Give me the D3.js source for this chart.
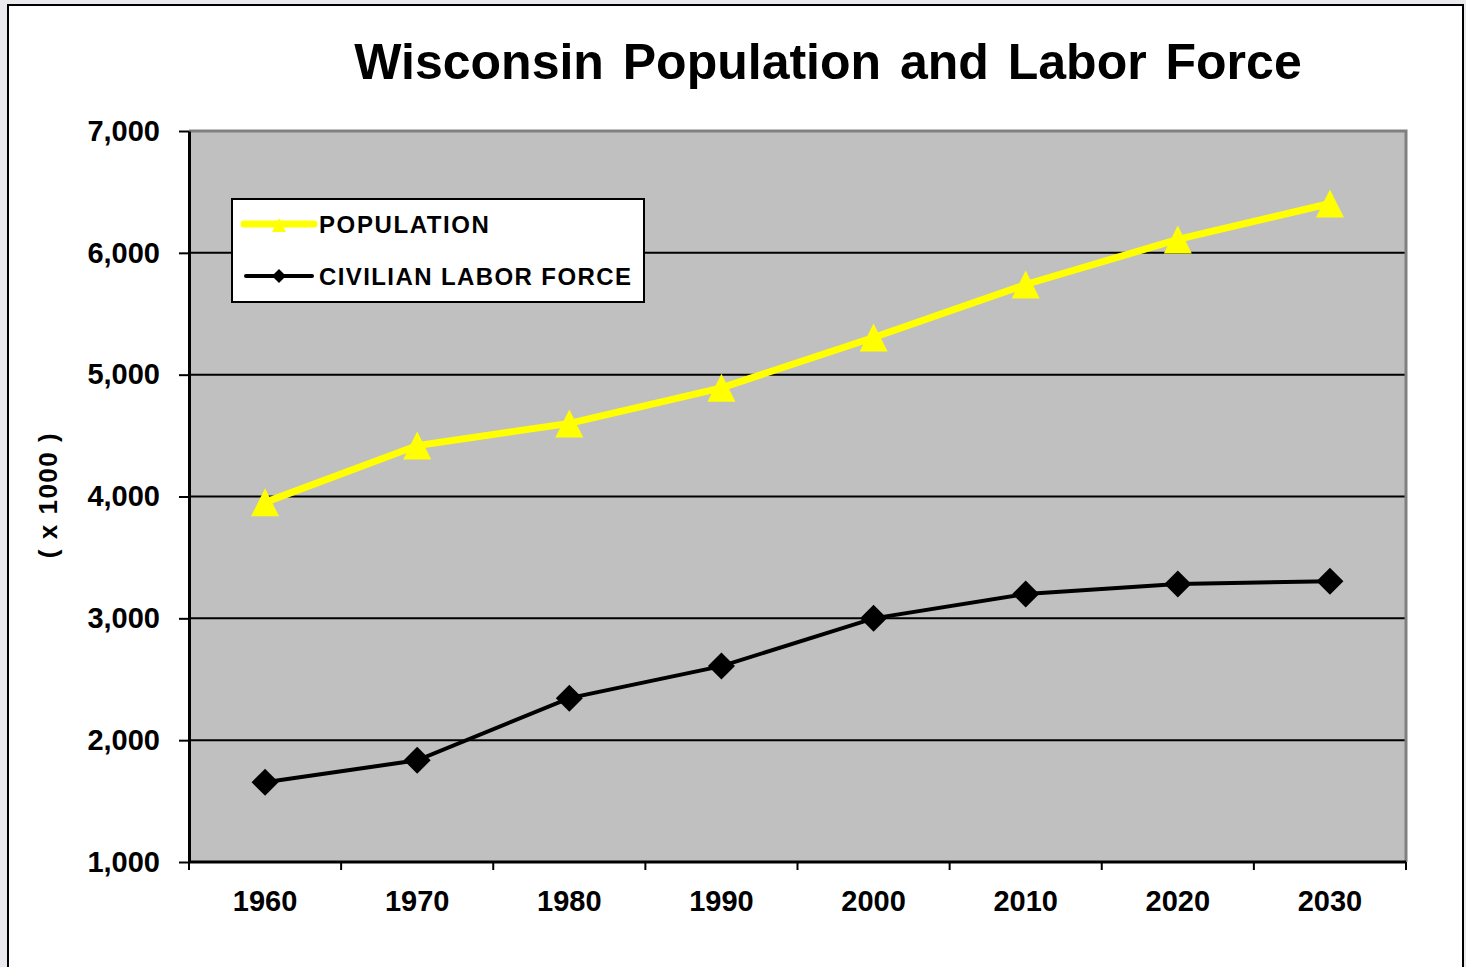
<!DOCTYPE html>
<html>
<head>
<meta charset="utf-8">
<script src="https://cdn.jsdelivr.net/npm/d3@7"></script>
<style>
  body { margin: 0; background: #e9e9ee; }
  svg { display: block; font-family: Arial, "Liberation Sans", sans-serif; }
</style>
</head>
<body>
<script>
var years = ["1960", "1970", "1980", "1990", "2000", "2010", "2020", "2030"];
var population = [3952, 4418, 4600, 4892, 5305, 5740, 6110, 6405];
var laborForce = [1655, 1835, 2345, 2608, 3000, 3200, 3282, 3305];
var yTicks = [1000, 2000, 3000, 4000, 5000, 6000, 7000];

var svg = d3.select("body").append("svg").attr("width", 1466).attr("height", 967);

// outer chart frame
svg.append("rect").attr("x", 8).attr("y", 5).attr("width", 1455).attr("height", 980)
    .attr("fill", "#fff").attr("stroke", "#000").attr("stroke-width", 2);

var margin = { top: 131, left: 189 };
var width = 1406 - 189;
var height = 862 - 131;

var x = d3.scaleBand().domain(years).range([0, width]);
var y = d3.scaleLinear().domain([1000, 7000]).range([height, 0]);

var g = svg.append("g").attr("transform", "translate(" + margin.left + "," + margin.top + ")");

g.append("rect").attr("width", width).attr("height", height).attr("fill", "#c0c0c0");

// gridlines
g.selectAll(".grid").data(yTicks.slice(1, -1)).enter().append("line")
    .attr("x1", 0).attr("x2", width)
    .attr("y1", function (d) { return y(d); }).attr("y2", function (d) { return y(d); })
    .attr("stroke", "#000").attr("stroke-width", 2);

// grey top and right plot border
g.append("path").attr("d", "M0,0H" + width + "V" + height)
    .attr("fill", "none").attr("stroke", "#808080").attr("stroke-width", 3);

// y axis
var yAxis = g.append("g").call(d3.axisLeft(y).tickValues(yTicks).tickFormat(d3.format(",")).tickSize(10).tickSizeOuter(0));
yAxis.select(".domain").attr("stroke-width", 3);
yAxis.selectAll(".tick line").attr("stroke-width", 2);
yAxis.selectAll("text").attr("font-size", 29).attr("font-weight", "bold").attr("x", -29).attr("fill", "#000");

// x axis: ticks on the band edges
var xAxis = g.append("g").attr("transform", "translate(0," + height + ")");
xAxis.append("line").attr("x1", 0).attr("x2", width).attr("stroke", "#000").attr("stroke-width", 3);
xAxis.selectAll(".xt").data(d3.range(years.length + 1)).enter().append("line")
    .attr("x1", function (i) { return i * x.bandwidth(); })
    .attr("x2", function (i) { return i * x.bandwidth(); })
    .attr("y1", 0).attr("y2", 8).attr("stroke", "#000").attr("stroke-width", 2);
xAxis.selectAll(".xl").data(years).enter().append("text")
    .attr("x", function (d) { return x(d) + x.bandwidth() / 2; })
    .attr("y", 49).attr("text-anchor", "middle")
    .attr("font-size", 29).attr("font-weight", "bold").text(function (d) { return d; });

var cx = function (d, i) { return x(years[i]) + x.bandwidth() / 2; };
var line = d3.line().x(cx).y(function (d) { return y(d); });

g.append("path").datum(population).attr("d", line)
    .attr("fill", "none").attr("stroke", "#ffff00").attr("stroke-width", 7);
g.append("path").datum(laborForce).attr("d", line)
    .attr("fill", "none").attr("stroke", "#000").attr("stroke-width", 4);

// Excel-style markers: triangle as tall as it is wide, square diamond
var tallTriangle = {
    draw: function (ctx, size) {
        var r = Math.sqrt(size) / 2;
        ctx.moveTo(0, -r); ctx.lineTo(r, r); ctx.lineTo(-r, r); ctx.closePath();
    }
};
var squareDiamond = {
    draw: function (ctx, size) {
        var r = Math.sqrt(size) / 2;
        ctx.moveTo(0, -r); ctx.lineTo(r, 0); ctx.lineTo(0, r); ctx.lineTo(-r, 0); ctx.closePath();
    }
};
var tri = d3.symbol().type(tallTriangle).size(28 * 28);
var dia = d3.symbol().type(squareDiamond).size(27 * 27);

g.selectAll(".pop").data(population).enter().append("path")
    .attr("d", tri)
    .attr("transform", function (d, i) { return "translate(" + cx(d, i) + "," + y(d) + ")"; })
    .attr("fill", "#ffff00");
g.selectAll(".lab").data(laborForce).enter().append("path")
    .attr("d", dia)
    .attr("transform", function (d, i) { return "translate(" + cx(d, i) + "," + y(d) + ")"; })
    .attr("fill", "#000");

// legend
var lg = svg.append("g").attr("transform", "translate(232,199)");
lg.append("rect").attr("width", 412).attr("height", 103).attr("fill", "#fff").attr("stroke", "#000").attr("stroke-width", 2);
lg.append("line").attr("x1", 12).attr("x2", 82).attr("y1", 25).attr("y2", 25).attr("stroke", "#ffff00").attr("stroke-width", 7).attr("stroke-linecap", "round");
lg.append("path").attr("d", d3.symbol().type(tallTriangle).size(14 * 14)).attr("transform", "translate(47,26)").attr("fill", "#ffff00");
lg.append("line").attr("x1", 14).attr("x2", 80).attr("y1", 77).attr("y2", 77).attr("stroke", "#000").attr("stroke-width", 4).attr("stroke-linecap", "round");
lg.append("path").attr("d", d3.symbol().type(squareDiamond).size(14 * 14)).attr("transform", "translate(47,77)").attr("fill", "#000");
lg.append("text").attr("x", 87).attr("y", 34).attr("font-size", 24).attr("font-weight", "bold").attr("letter-spacing", 1.6).text("POPULATION");
lg.append("text").attr("x", 87).attr("y", 86).attr("font-size", 24).attr("font-weight", "bold").attr("letter-spacing", 1.4).text("CIVILIAN LABOR FORCE");

// title and y label
svg.append("text").attr("x", 828).attr("y", 79).attr("text-anchor", "middle")
    .attr("font-size", 50).attr("font-weight", "bold").attr("word-spacing", 5).text("Wisconsin Population and Labor Force");
svg.append("text").attr("transform", "translate(57,495) rotate(-90)").attr("text-anchor", "middle")
    .attr("font-size", 26).attr("font-weight", "bold").attr("letter-spacing", 1.5).attr("xml:space", "preserve").text("( x 1000 )");
</script>
</body>
</html>
